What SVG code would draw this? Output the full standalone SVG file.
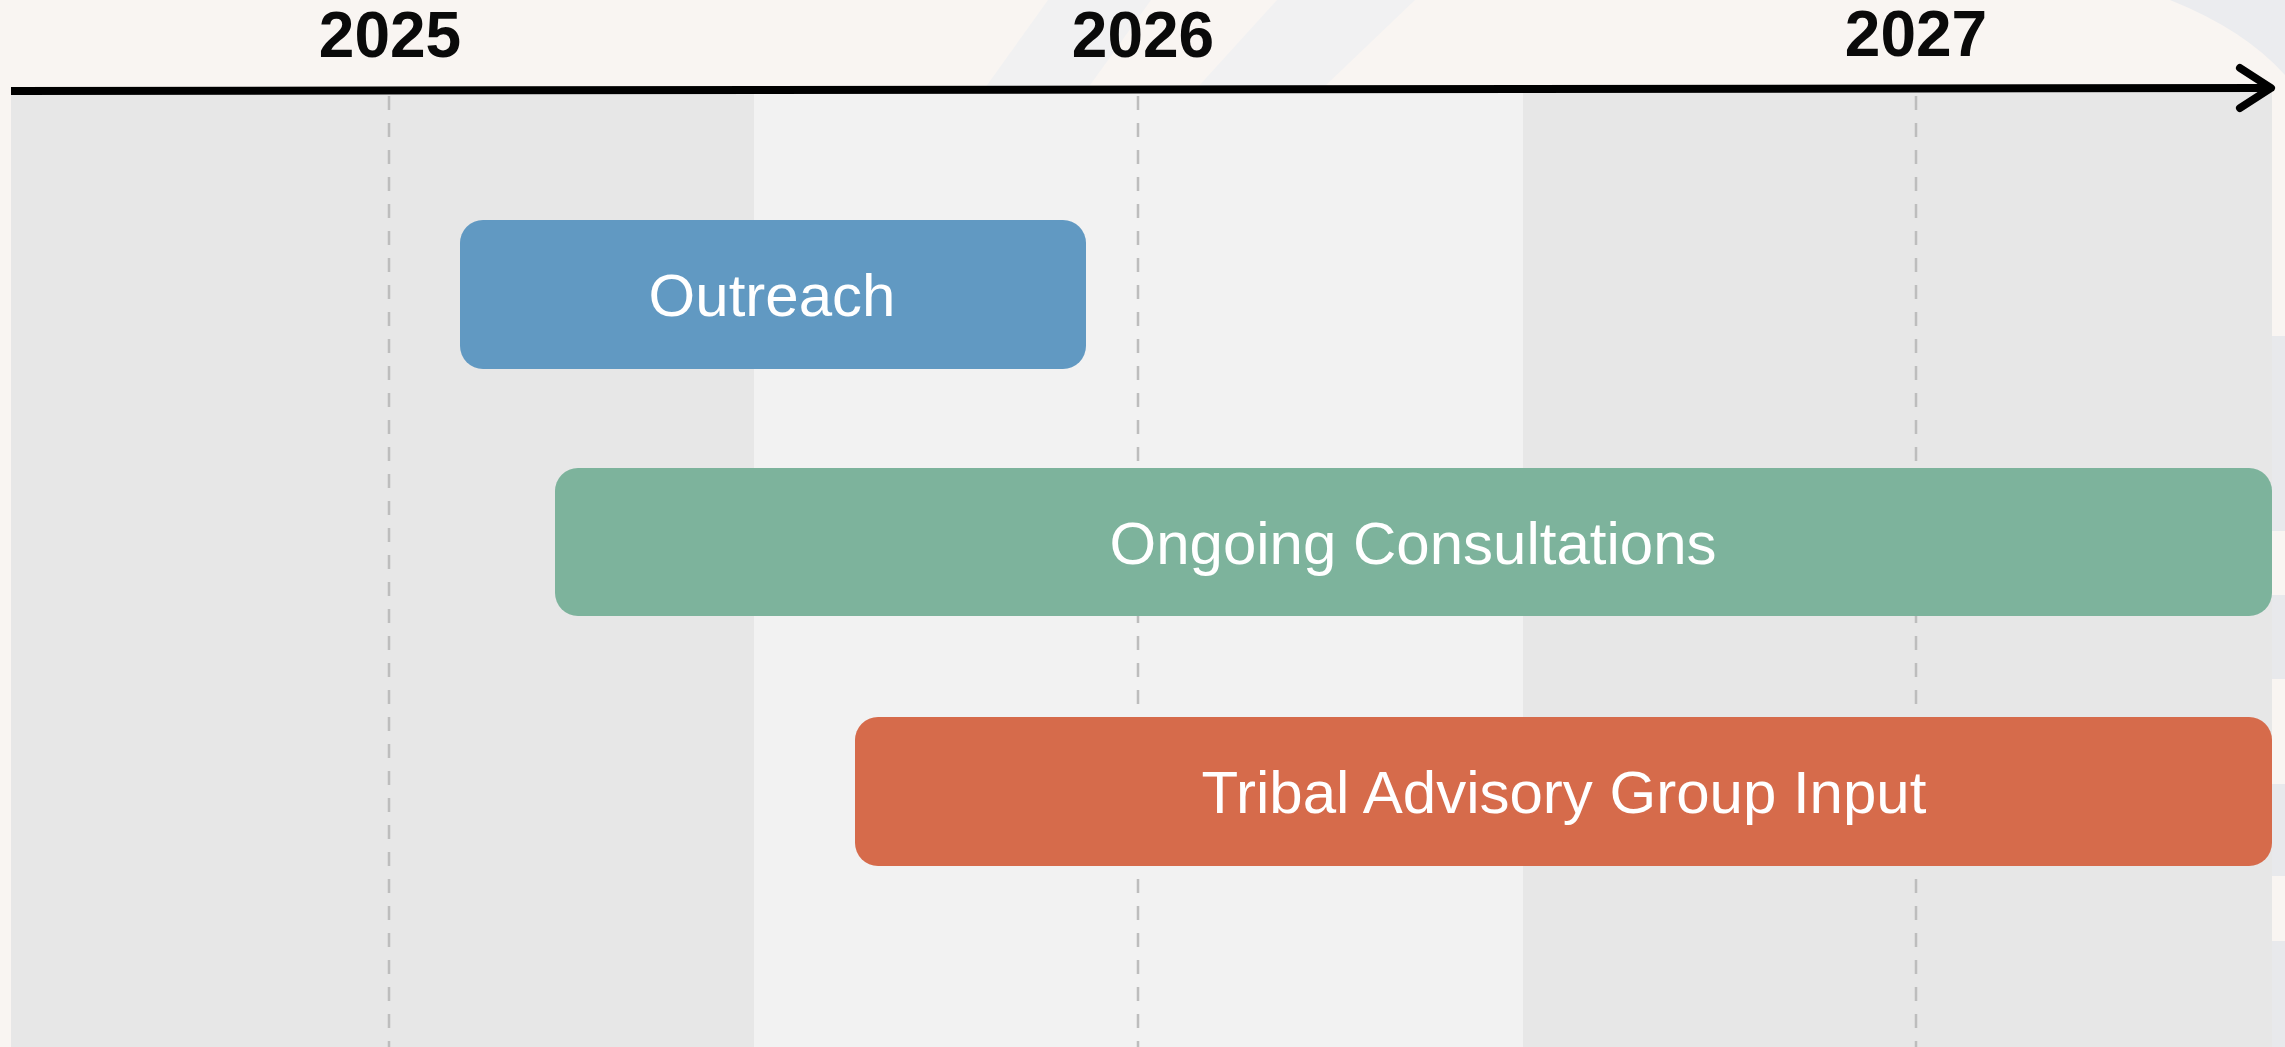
<svg xmlns="http://www.w3.org/2000/svg" width="2285" height="1047" viewBox="0 0 2285 1047">
  <style>
    .year { font-family: "Liberation Sans", Arial, sans-serif; font-weight: bold; font-size: 64px; fill: #0a0a0a; text-anchor: middle; }
    .label { font-family: "Liberation Sans", Arial, sans-serif; font-size: 60px; fill: #ffffff; text-anchor: middle; }
    .grid { stroke: #bdbdbd; stroke-width: 2.5; stroke-dasharray: 14 13; fill: none; }
    .bandDark { fill: #e7e7e7; }
    .bandLight { fill: #f2f2f2; }
    .strip { fill: #e8e9ec; }
    .streak { fill: #f1f1f2; }
  </style>

  <!-- background -->
  <rect x="0" y="0" width="2285" height="1047" fill="#f9f5f2"/>
  <polygon class="streak" points="1048,0 1151,0 1088,88 985,88"/>
  <polygon class="streak" points="1277,0 1415,0 1323,88 1197,88"/>
  <path d="M2170,0 Q2245,30 2285,75 L2285,0 Z" fill="#ebecef"/>
  <rect class="strip" x="2272" y="336" width="13" height="195"/>
  <rect class="strip" x="2272" y="595" width="13" height="84"/>
  <rect class="strip" x="2272" y="784" width="13" height="92"/>
  <rect class="strip" x="2272" y="941" width="13" height="106"/>

  <!-- bands -->
  <rect class="bandDark" x="11" y="92" width="743" height="955"/>
  <rect class="bandLight" x="754" y="92" width="769" height="955"/>
  <rect class="bandDark" x="1523" y="92" width="749" height="955"/>

  <!-- grid lines -->
  <g id="gridlines">
    <line class="grid" x1="389" y1="96" x2="389" y2="1047"/>
    <line class="grid" x1="1138" y1="96" x2="1138" y2="1047"/>
    <line class="grid" x1="1916" y1="96" x2="1916" y2="1047"/>
  </g>

  <!-- axis -->
  <g id="connectors">
    <line x1="11" y1="91" x2="2266" y2="88" stroke="#000" stroke-width="8"/>
    <polyline points="2240,68 2271,88 2240,108" fill="none" stroke="#000" stroke-width="8" stroke-linecap="round" stroke-linejoin="round"/>
  </g>

  <!-- year labels -->
  <g id="years">
    <text class="year" x="390" y="57">2025</text>
    <text class="year" x="1143" y="57">2026</text>
    <text class="year" x="1916" y="56">2027</text>
  </g>

  <!-- bars -->
  <g id="outreach">
    <rect x="460" y="220" width="626" height="149" rx="23" ry="23" fill="#6199c2"/>
    <text class="label" x="772" y="316">Outreach</text>
  </g>
  <g id="ongoing-consultations">
    <rect x="555" y="468" width="1717" height="148" rx="23" ry="23" fill="#7db39c"/>
    <text class="label" x="1413" y="564">Ongoing Consultations</text>
  </g>
  <g id="tribal-advisory-group-input">
    <rect x="855" y="717" width="1417" height="149" rx="23" ry="23" fill="#d66b4b"/>
    <text class="label" x="1564" y="813">Tribal Advisory Group Input</text>
  </g>
</svg>
